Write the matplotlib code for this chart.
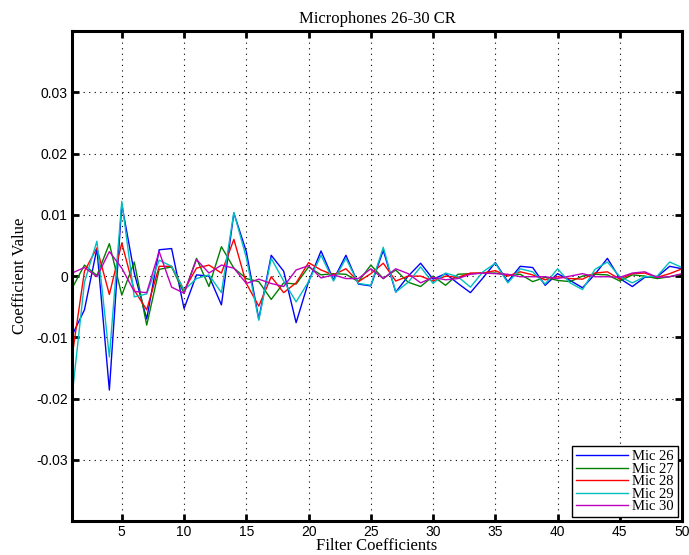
import numpy as np
from matplotlib import pyplot as plt
from matplotlib.ticker import FuncFormatter

# filter coefficients (x 1e-3)
coef = np.arange(1, 51)
mic26 = [-9.7, -5.5, 4.5, -18.6, 11.7, 0.5, -7.0, 4.3, 4.5, -5.3,
         0.2, 0.0, -4.7, 10.3, 4.0, -7.0, 3.4, 0.8, -7.6, -0.9,
         4.1, -0.6, 3.4, -1.3, -1.6, 4.2, -2.6, 0.0, 2.1, -0.5,
         0.4, -1.2, -2.7, -0.3, 2.2, -0.9, 1.6, 1.4, -1.5, 0.4,
         -0.7, -1.9, 0.3, 2.9, -0.4, -1.7, -0.2, -0.1, 1.6, 1.2]
mic27 = [-2.0, 1.8, 0.1, 5.3, -3.1, 2.3, -8.0, 1.1, 1.5, -2.8,
         2.9, -1.7, 4.8, 1.3, -0.4, -0.9, -3.8, -1.1, -1.3, 1.5,
         0.2, 0.4, 0.3, -0.9, 1.8, -0.4, 1.0, -1.0, -1.7, 0.0,
         -1.5, 0.3, 0.4, 0.5, 0.5, 0.2, 0.3, -0.9, -0.2, -0.7,
         -0.9, 0.0, 0.3, 0.2, -0.8, 0.2, 0.0, -0.4, -0.1, 0.3]
mic28 = [-13.2, 0.8, 4.6, -3.0, 5.4, -2.3, -5.5, 1.6, 1.6, -2.3,
         1.3, 1.8, 0.5, 6.0, -1.2, -4.9, -0.1, -2.7, -1.1, 2.2,
         1.0, 0.2, 1.2, -0.9, 0.4, 2.1, -0.8, 0.0, 0.0, -0.8,
         0.0, -0.2, 0.5, 0.5, 0.9, 0.0, 0.7, 0.2, -0.6, -0.1,
         -0.4, -0.5, 0.5, 0.7, -0.5, 0.4, 0.5, -0.2, 0.4, 1.2]
mic29 = [-19.7, -1.0, 5.7, -13.2, 12.2, -3.4, -2.9, 2.6, 1.6, -2.3,
         -0.4, 0.2, -2.7, 10.4, 3.0, -7.2, 2.9, -0.8, -4.2, -0.9,
         3.4, -0.8, 2.9, -1.2, -1.5, 4.7, -2.6, -1.0, 1.5, -1.2,
         0.5, -0.1, -1.8, 0.7, 2.1, -1.1, 1.2, 0.7, -1.3, 1.2,
         -1.1, -2.2, 1.1, 2.3, -0.1, -1.1, -0.1, 0.0, 2.3, 1.4]
mic30 = [0.5, 1.4, -0.1, 4.0, 1.3, -2.5, -2.7, 4.0, -1.8, -2.8,
         2.7, 0.5, 1.8, 1.3, -1.2, -0.5, -1.2, -1.7, 1.0, 1.7,
         -0.3, 0.2, -0.4, -0.4, 1.2, -0.4, 1.2, 0.4, -1.1, -0.2,
         -0.6, -0.4, 0.3, 0.5, 0.4, 0.3, -0.1, -0.1, -0.1, -0.4,
         0.0, 0.4, -0.1, -0.1, -0.2, 0.5, 0.7, -0.2, -0.1, 0.4]

labels = ["Mic 26", "Mic 27", "Mic 28", "Mic 29", "Mic 30"]
colors = [(0, 0, 1), (0, 0.5, 0), (1, 0, 0), (0, 0.75, 0.75), (0.75, 0, 0.75)]
serif = "Liberation Serif"

fig = plt.figure(figsize=(6.89, 5.55), dpi=100)
ax = fig.add_axes([0.1045, 0.061, 0.8855, 0.883])

for data, lab, col in zip([mic26, mic27, mic28, mic29, mic30], labels, colors):
    ax.plot(coef, np.array(data) * 1e-3, color=col, lw=1.0, label=lab)

ax.set_xlim(1, 50)
ax.set_ylim(-0.04, 0.04)
ax.set_xticks(np.arange(5, 51, 5))
ax.set_yticks([-0.03, -0.02, -0.01, 0, 0.01, 0.02, 0.03])
ax.yaxis.set_major_formatter(FuncFormatter(lambda v, p: "0" if abs(v) < 1e-9 else "%.2f" % v))
ax.tick_params(direction="in", length=5, width=2, top=True, right=True,
               labelsize=10, pad=3)
for lbl in ax.get_xticklabels() + ax.get_yticklabels():
    lbl.set_family("Liberation Sans")
for s in ax.spines.values():
    s.set_linewidth(2.2)
ax.grid(True, color="k", linestyle=(0, (1, 4)), linewidth=0.8)

ax.set_title("Microphones 26-30 CR", family=serif, fontsize=12, pad=6)
ax.set_xlabel("Filter Coefficients", family=serif, fontsize=12, labelpad=-1)
ax.set_ylabel("Coefficient Value", family=serif, fontsize=12, labelpad=6)

leg = ax.legend(loc="lower right", prop={"family": serif, "size": 10.5},
                fancybox=False, framealpha=1, edgecolor="k",
                handlelength=3.6, handletextpad=0.3, labelspacing=-0.05,
                borderpad=0.25, borderaxespad=0.3)
leg.get_frame().set_linewidth(1.0)

plt.savefig("out.png", dpi=100)
